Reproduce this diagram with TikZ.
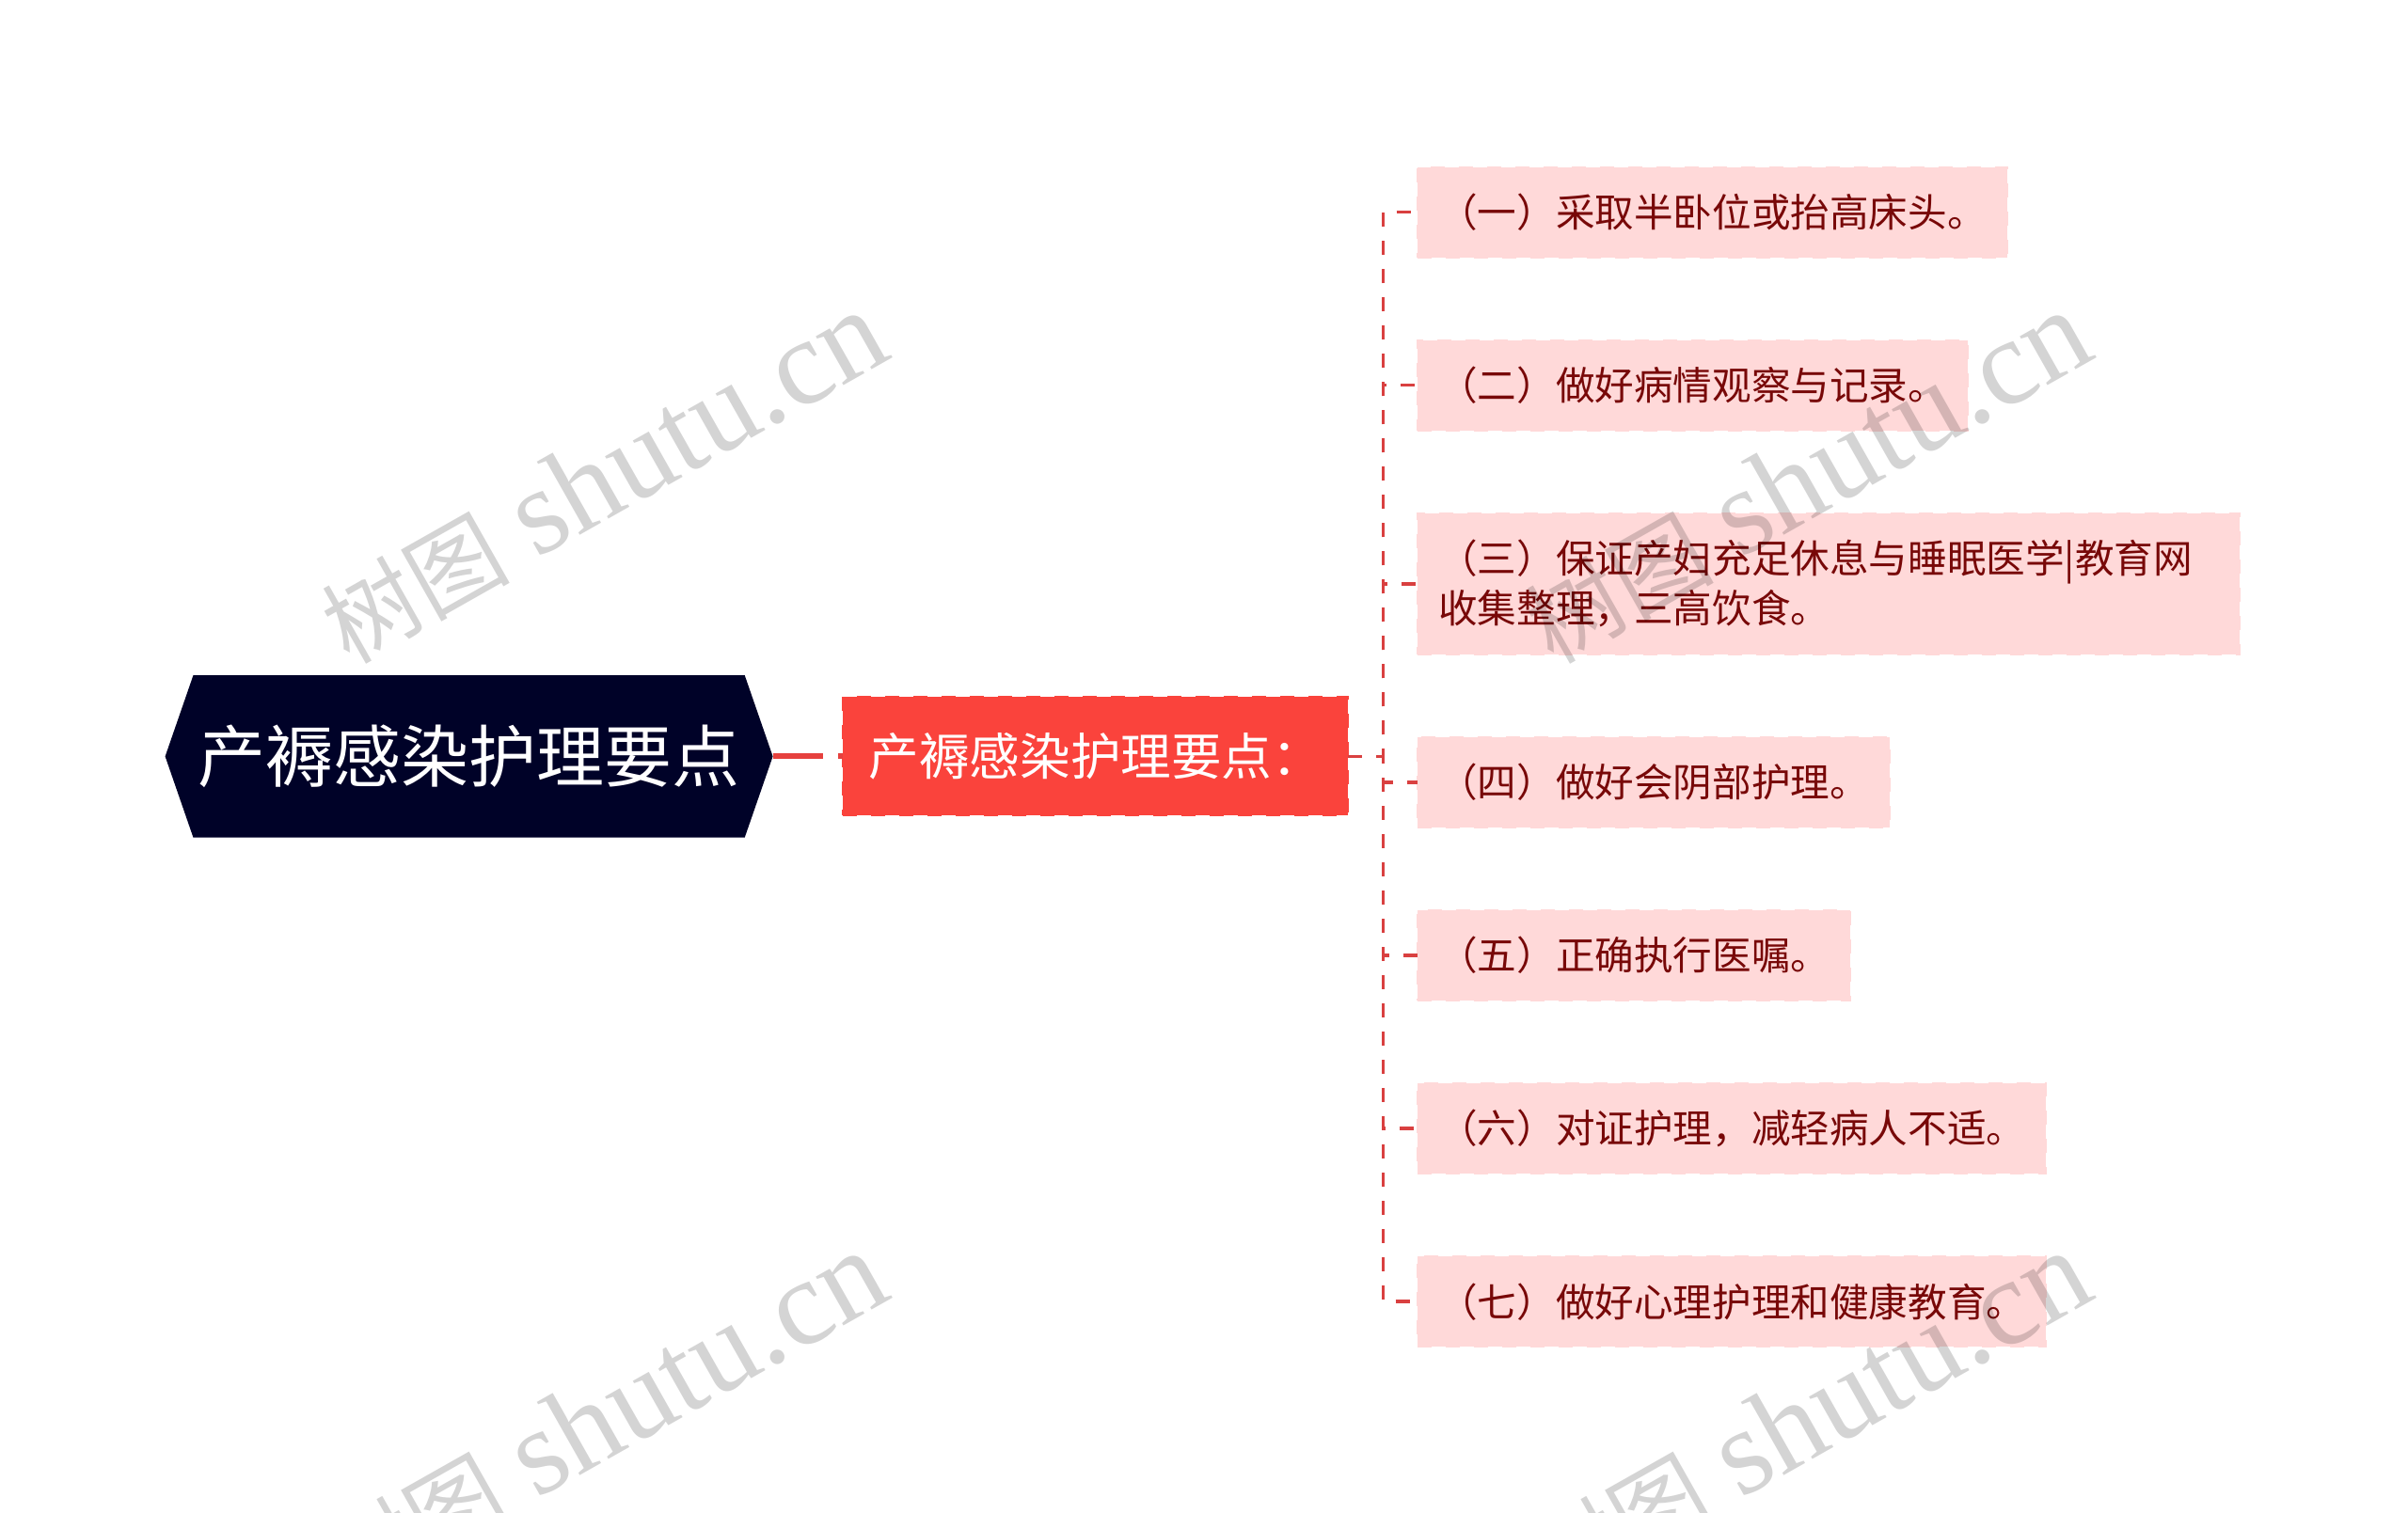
\documentclass[tikz,border=0pt]{standalone}
\usepackage{fontspec}
\setmainfont{Noto Sans CJK SC}
\newfontfamily\wmlatin{Liberation Serif}
\usetikzlibrary {positioning}
\usetikzlibrary {shapes.symbols}
\definecolor{rootbg}{RGB}{0,2,40}
\definecolor{subbg}{RGB}{250,67,60}
\definecolor{itembg}{RGB}{255,217,217}
\definecolor{itemtext}{RGB}{120,8,8}
\definecolor{linkred}{RGB}{217,64,64}
\newcommand{\wmtext}{{\fontsize{50}{60}\selectfont 树图} {\wmlatin shutu.cn}}
\begin{document}
\begin{tikzpicture}
	[root/.style={shape=signal,signal to=west and east,signal pointer angle=141.8,fill=rootbg,text=white,
		inner sep=0pt,minimum width=323pt,minimum height=86.2pt,font=\fontsize{36}{40}\selectfont},
	subitem/.style={rectangle,fill=subbg,draw=subbg,dash pattern=on 7.5pt off 7.5pt,line width=1pt,text=white,
		inner sep=0pt,outer sep=0pt,minimum width=268.5pt,minimum height=63pt,font=\fontsize{26.8}{30}\selectfont},
	item/.style={rectangle,fill=itembg,draw=itembg,dash pattern=on 7.5pt off 7.5pt,line width=1pt,text=itemtext,
		inner xsep=11pt,inner ysep=0pt,outer sep=0pt,minimum height=48pt,font=\fontsize{20.8}{26.5}\selectfont},
	rootlink/.style={linkred!60!subbg,line width=3pt,dash pattern=on 26.5pt off 8pt},
	itemlink/.style={linkred,line width=1.8pt,dash pattern=on 7.5pt off 7.5pt},
	wmark/.style={text=black,opacity=0.17,rotate=29.5,font=\fontsize{65}{60}\selectfont}]
	\useasboundingbox (0pt,0pt) rectangle (1280pt,-804.5pt);
	\node[root]    (main) at (249.3pt,-402.2pt) {产褥感染护理要点};
	\node[subitem] (sub)  [right=37.2pt of main] {产褥感染护理要点：};
	\coordinate    (trunk) at ([xshift=18.5pt]sub.east);
	\node[item]    (it1) [anchor=west] at (753.6pt,-112.8pt) {（一）采取半卧位或抬高床头。};
	\node[item]    (it2) [below=44.05pt of it1.south west,anchor=north west] {（二）做好病情观察与记录。};
	\node[item,text width=415pt,align=left,minimum height=75pt]
	               (it3) [below=44.05pt of it2.south west,anchor=north west] {（三）保证产妇充足休息与睡眠医学|教育网\\收集整理，三高饮食。};
	\node[item]    (it4) [below=44.05pt of it3.south west,anchor=north west] {（四）做好会阴部护理。};
	\node[item]    (it5) [below=44.05pt of it4.south west,anchor=north west] {（五）正确执行医嘱。};
	\node[item]    (it6) [below=44.05pt of it5.south west,anchor=north west] {（六）对证护理，减轻病人不适。};
	\node[item]    (it7) [below=44.05pt of it6.south west,anchor=north west] {（七）做好心理护理和健康教育。};
	\draw[rootlink] (main.east) -- (sub.west);
	\foreach \n in {1,...,7}
		\draw[itemlink] (sub.east) -- (trunk) |- (it\n.west);
	\node[wmark] (wm1) at (320.5pt,-254pt) {\wmtext};
	\node[wmark] (wm2) at (960.5pt,-254pt) {\wmtext};
	\node[wmark] (wm3) at (320.5pt,-754pt) {\wmtext};
	\node[wmark] (wm4) at (960.5pt,-754pt) {\wmtext};
\end{tikzpicture}
\end{document}
